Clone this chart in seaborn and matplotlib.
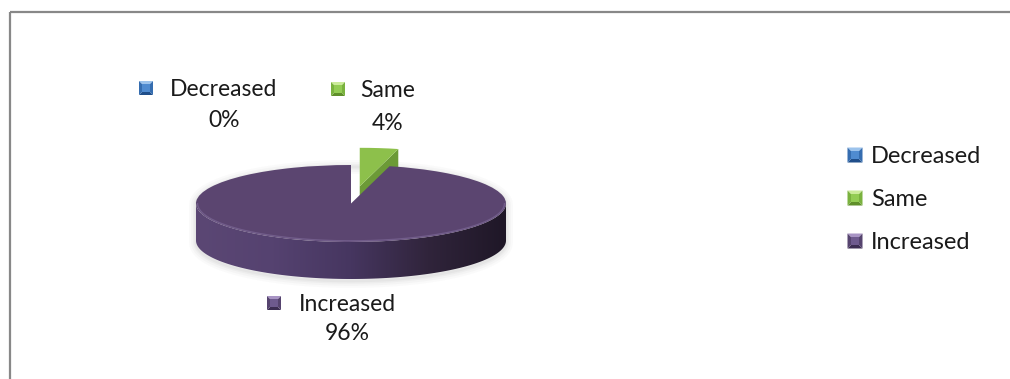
import numpy as np
import matplotlib
matplotlib.use("Agg")
import matplotlib.pyplot as plt
from matplotlib.patches import Polygon, Rectangle
import seaborn as sns

# ---- data -------------------------------------------------------------
categories = ["Decreased", "Same", "Increased"]
shares = [0, 4, 96]
explode = [0, 0.45, 0]

top_colors = ["#4A7EBB", "#8DC04B", "#5B4570"]
green_side_color = "#6C9A37"
# bevelled marker shades per category: (base, light, dark, side)
marker_shades = [
    ("#4F8BD0", "#9CC3EC", "#1F4E8A", "#356DB0"),
    ("#93CC53", "#CCEB9A", "#5F8F2A", "#7AB23E"),
    ("#6E5A8E", "#A894C4", "#3C2D52", "#56446F"),
]

# ---- layout (pixels) ---------------------------------------------------
W, H = 1010, 379
CX, CY, RX, RY, DEPTH = 351, 203.5, 155, 38.5, 37
label_layout = [(224, 96, 127), (388, 97, 130), (347, 311, 340)]
label_marker_x = [146, 338, 274]
legend_x, legend_text_x = 855, 871
legend_baselines = [163, 206, 249]

sns.set_theme(style="white")
plt.rcParams["font.family"] = ["Lato", "DejaVu Sans"]

fig = plt.figure(figsize=(W / 100, H / 100), dpi=100, frameon=False)

# pixel-space overlay for frame, labels and legend
bg = fig.add_axes([0, 0, 1, 1])
bg.set_xlim(0, W)
bg.set_ylim(H, 0)
bg.axis("off")
bg.add_patch(Rectangle((0, 0), W, H, facecolor="white", edgecolor="none", zorder=-5))

# chart-area frame (top and left edges)
bg.plot([9.5, W], [11.5, 11.5], color="#888888", lw=1.6, solid_capstyle="butt")
bg.plot([9.5, 9.5], [11.5, H], color="#888888", lw=1.6, solid_capstyle="butt")


def bevel_square(ax, cx, cy, s, shades):
    base, light, dark, side = shades
    h = s / 2
    g = h - s * 0.24
    TL, TR, BR, BL = (cx - h, cy - h), (cx + h, cy - h), (cx + h, cy + h), (cx - h, cy + h)
    iTL, iTR, iBR, iBL = (cx - g, cy - g), (cx + g, cy - g), (cx + g, cy + g), (cx - g, cy + g)
    for pts, col in [((TL, TR, iTR, iTL), light), ((BL, BR, iBR, iBL), dark),
                     ((TL, BL, iBL, iTL), side), ((TR, BR, iBR, iTR), side),
                     ((iTL, iTR, iBR, iBL), base)]:
        ax.add_patch(Polygon(pts, closed=True, facecolor=col, edgecolor="none"))


# ---- pie axes ------------------------------------------------------------
x0, y0, w, h = 140, 110, 420, 200
ax = fig.add_axes([x0 / W, 1 - (y0 + h) / H, w / W, h / H])
wedges, _ = ax.pie(shares, colors=top_colors, startangle=90, counterclock=False,
                   explode=explode, radius=1, center=(0, 0),
                   wedgeprops=dict(linewidth=0))
d = DEPTH / RY

# soft shadow around the disc
t_all = np.linspace(0, np.pi, 200)
t_front = np.linspace(np.pi, 2 * np.pi, 200)
sil = np.concatenate([np.c_[np.cos(t_all), np.sin(t_all)],
                      np.c_[np.cos(t_front), np.sin(t_front) - d]])
for lw_, a_ in [(10, 0.03), (7, 0.04), (4, 0.05), (2, 0.06)]:
    ax.add_patch(Polygon(sil - [0, 0.05], closed=True, facecolor="none",
                         edgecolor="#707070", lw=lw_, alpha=a_, zorder=0.5))

# front side of the disc with horizontal shading
xs, ys = np.cos(t_front), np.sin(t_front)
side_verts = np.concatenate([np.c_[xs, ys], np.c_[xs[::-1], ys[::-1] - d]])
side = Polygon(side_verts, closed=True, facecolor="none", edgecolor="none")
ax.add_patch(side)
grad = np.array(sns.blend_palette(["#5B4774", "#554270", "#463660", "#30243B", "#1F1727"],
                                  n_colors=256))[None, :, :]
im = ax.imshow(grad, extent=(-1, 1, -1 - d, 0.02), aspect="auto",
               interpolation="bilinear", zorder=1.5)
im.set_clip_path(side)

# rim highlight along the front edge of the top face
ax.plot(0.99 * xs, 0.97 * ys, color="#7B6796", lw=1.0, alpha=0.7, zorder=2.1)

# exploded slice: cut face on its clockwise edge
green = wedges[1]
th = np.deg2rad(green.theta1)
p0 = np.array(green.center)
p1 = p0 + np.array([np.cos(th), np.sin(th)]) * green.r
ax.add_patch(Polygon([p0, p1, p1 - [0, d], p0 - [0, d]], closed=True,
                     facecolor=green_side_color, edgecolor="none", zorder=1.2))

wedges[0].set_zorder(1.3)
green.set_zorder(1.3)
wedges[2].set_zorder(2)

ax.set_aspect("auto")
ax.set_xlim((x0 - CX) / RX, (x0 + w - CX) / RX)
ax.set_ylim((CY - (y0 + h)) / RY, (CY - y0) / RY)
ax.axis("off")

# ---- data labels -----------------------------------------------------------
fs_label, fs_legend = 16.5, 17
for i, (name, val) in enumerate(zip(categories, shares)):
    tx, yb1, yb2 = label_layout[i]
    bg.text(tx, yb1, name, ha="center", va="baseline", fontsize=fs_label, color="#1a1a1a")
    bg.text(tx, yb2, f"{val}%", ha="center", va="baseline", fontsize=fs_label, color="#1a1a1a")
    bevel_square(bg, label_marker_x[i], yb1 - 8, 14, marker_shades[i])

# ---- legend -------------------------------------------------------------------
for i, name in enumerate(categories):
    yb = legend_baselines[i]
    bevel_square(bg, legend_x, yb - 8, 15, marker_shades[i])
    bg.text(legend_text_x, yb, name, ha="left", va="baseline", fontsize=fs_legend, color="#1a1a1a")

fig.savefig("out.png", dpi=100, facecolor="white")
